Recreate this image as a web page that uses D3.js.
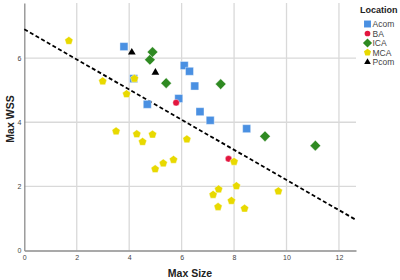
<!DOCTYPE html>
<html>
<head>
<meta charset="utf-8">
<script src="https://cdn.jsdelivr.net/npm/d3@7"></script>
<style>
  body { margin: 0; background: #fff; }
  text { font-family: "Liberation Sans", Arial, sans-serif; }
</style>
</head>
<body>
<div id="canvas"></div>
<script>
"use strict"

/***********************************
 DATA
************************************/
let locations = ["Acom", "BA", "ICA", "MCA", "Pcom"];

let acomX = [3.80, 4.17, 4.69, 5.89, 6.10, 6.30, 6.50, 6.70, 7.09, 8.48];
let acomY = [6.36, 5.36, 4.56, 4.74, 5.77, 5.59, 5.13, 4.33, 4.06, 3.80];

let baX = [5.79, 7.79];
let baY = [4.61, 2.86];

let icaX = [4.79, 4.89, 5.41, 7.49, 9.18, 11.10];
let icaY = [5.95, 6.19, 5.22, 5.19, 3.56, 3.27];

let mcaX = [1.70, 2.99, 3.90, 4.20, 3.50, 4.29, 4.51, 4.89, 4.99, 5.30,
            5.69, 6.20, 8.00, 8.09, 7.41, 7.20, 7.90, 7.39, 8.40, 9.69];
let mcaY = [6.54, 5.28, 4.88, 5.36, 3.72, 3.63, 3.39, 3.62, 2.54, 2.72,
            2.83, 3.47, 2.77, 2.01, 1.91, 1.74, 1.55, 1.36, 1.31, 1.85];

let pcomX = [4.10, 5.00];
let pcomY = [6.18, 5.55];

// fit line: intercept and slope
let fitLine = [6.9, -0.47];

let xTicks = [0, 2, 4, 6, 8, 10, 12];
let yTicks = [0, 2, 4, 6];

/***********************************
 CONFIG
************************************/
let svgWidth = 400;
let svgHeight = 280;

let colors = {
    Acom: "#4a90e2",
    BA: "#e3163e",
    ICA: "#2f8a22",
    MCA: "#e8d900",
    Pcom: "#000000"
};

// custom pentagon symbol for MCA
let pentagon = {
    draw(context, size) {
        let r = Math.sqrt(size / 2.378);
        for (let i = 0; i < 5; i++) {
            let a = -Math.PI / 2 + i * 2 * Math.PI / 5;
            let px = r * Math.cos(a), py = r * Math.sin(a);
            if (i === 0) context.moveTo(px, py); else context.lineTo(px, py);
        }
        context.closePath();
    }
};

// square turned 45 degrees
let diamond = {
    draw(context, size) {
        let r = Math.sqrt(size / 2);
        context.moveTo(0, -r);
        context.lineTo(r, 0);
        context.lineTo(0, r);
        context.lineTo(-r, 0);
        context.closePath();
    }
};

let shapes = {
    Acom: { type: d3.symbolSquare, size: 64 },
    BA: { type: d3.symbolCircle, size: 34 },
    ICA: { type: diamond, size: 56 },
    MCA: { type: pentagon, size: 44 },
    Pcom: { type: d3.symbolTriangle, size: 26 }
};

/***********************************
 SVG + SCALES
************************************/
let svg = d3.select("#canvas")
    .append("svg")
    .attr("width", svgWidth)
    .attr("height", svgHeight);

let xScale = d3.scaleLinear()
    .domain([0, 12.65])
    .range([24.3, 356]);

let yScale = d3.scaleLinear()
    .domain([0, 7.72])
    .range([250.5, 3]);

/***********************************
 GRID
************************************/
svg.append("g")
    .selectAll("line")
    .data(xTicks.filter(d => d > 0))
    .join("line")
    .attr("x1", d => xScale(d))
    .attr("x2", d => xScale(d))
    .attr("y1", yScale.range()[0])
    .attr("y2", yScale.range()[1])
    .attr("stroke", "#d9d9d9")
    .attr("stroke-width", 1.3);

svg.append("g")
    .selectAll("line")
    .data(yTicks.filter(d => d > 0))
    .join("line")
    .attr("x1", xScale.range()[0])
    .attr("x2", xScale.range()[1])
    .attr("y1", d => yScale(d))
    .attr("y2", d => yScale(d))
    .attr("stroke", "#d9d9d9")
    .attr("stroke-width", 1.3);

/***********************************
 AXES
************************************/
let xAxis = d3.axisBottom(xScale).tickValues(xTicks).tickSize(0).tickPadding(5);
let yAxis = d3.axisLeft(yScale).tickValues(yTicks).tickSize(0).tickPadding(3);

let gx = svg.append("g")
    .attr("transform", `translate(0, ${yScale.range()[0]})`)
    .call(xAxis);

let gy = svg.append("g")
    .attr("transform", `translate(${xScale.range()[0]}, 0)`)
    .call(yAxis);

[gx, gy].forEach(g => {
    g.select(".domain").attr("stroke", "#8c8c8c").attr("stroke-width", 1.3);
    g.selectAll("text")
        .attr("font-family", "Liberation Sans, Arial, sans-serif")
        .attr("font-size", 7)
        .attr("fill", "#444");
});

/***********************************
 FIT LINE
************************************/
let x0 = 0, x1 = 12.65;
svg.append("line")
    .attr("x1", xScale(x0))
    .attr("y1", yScale(fitLine[0] + fitLine[1] * x0))
    .attr("x2", xScale(x1))
    .attr("y2", yScale(fitLine[0] + fitLine[1] * x1))
    .attr("stroke", "#000")
    .attr("stroke-width", 1.8)
    .attr("stroke-dasharray", "4,2.5");

/***********************************
 POINTS
************************************/
let series = [
    { key: "Acom", xs: acomX, ys: acomY },
    { key: "BA", xs: baX, ys: baY },
    { key: "ICA", xs: icaX, ys: icaY },
    { key: "MCA", xs: mcaX, ys: mcaY },
    { key: "Pcom", xs: pcomX, ys: pcomY }
];

series.forEach(s => {
    let pts = s.xs.map((x, i) => ({ x: x, y: s.ys[i] }));
    let sym = d3.symbol().type(shapes[s.key].type).size(shapes[s.key].size);
    svg.append("g")
        .selectAll("path")
        .data(pts)
        .join("path")
        .attr("transform", d => `translate(${xScale(d.x)}, ${yScale(d.y)})`)
        .attr("d", sym)
        .attr("fill", colors[s.key])
        .attr("stroke", s.key === "Pcom" ? "none" : "#fff")
        .attr("stroke-width", 0.4);
});

/***********************************
 AXIS TITLES
************************************/
svg.append("text")
    .attr("x", 190)
    .attr("y", 277)
    .attr("text-anchor", "middle")
    .attr("font-size", 10.5)
    .attr("font-weight", "bold")
    .attr("fill", "#222")
    .text("Max Size");

svg.append("text")
    .attr("x", -119)
    .attr("y", 14)
    .attr("text-anchor", "middle")
    .attr("transform", "rotate(-90)")
    .attr("font-size", 10.5)
    .attr("font-weight", "bold")
    .attr("fill", "#222")
    .text("Max WSS");

/***********************************
 LEGEND
************************************/
svg.append("text")
    .attr("x", 360)
    .attr("y", 13)
    .attr("font-size", 9)
    .attr("font-weight", "bold")
    .attr("fill", "#222")
    .text("Location");

let legendY = d3.scalePoint()
    .domain(locations)
    .range([24, 62]);

let legend = svg.append("g")
    .selectAll("g")
    .data(locations)
    .join("g")
    .attr("transform", d => `translate(367.5, ${legendY(d)})`);

legend.append("path")
    .attr("d", d => d3.symbol().type(shapes[d].type).size(shapes[d].size * 0.75)())
    .attr("fill", d => colors[d]);

legend.append("text")
    .attr("x", 5)
    .attr("y", 3)
    .attr("font-size", 8.5)
    .attr("fill", "#444")
    .text(d => d);
</script>
</body>
</html>
